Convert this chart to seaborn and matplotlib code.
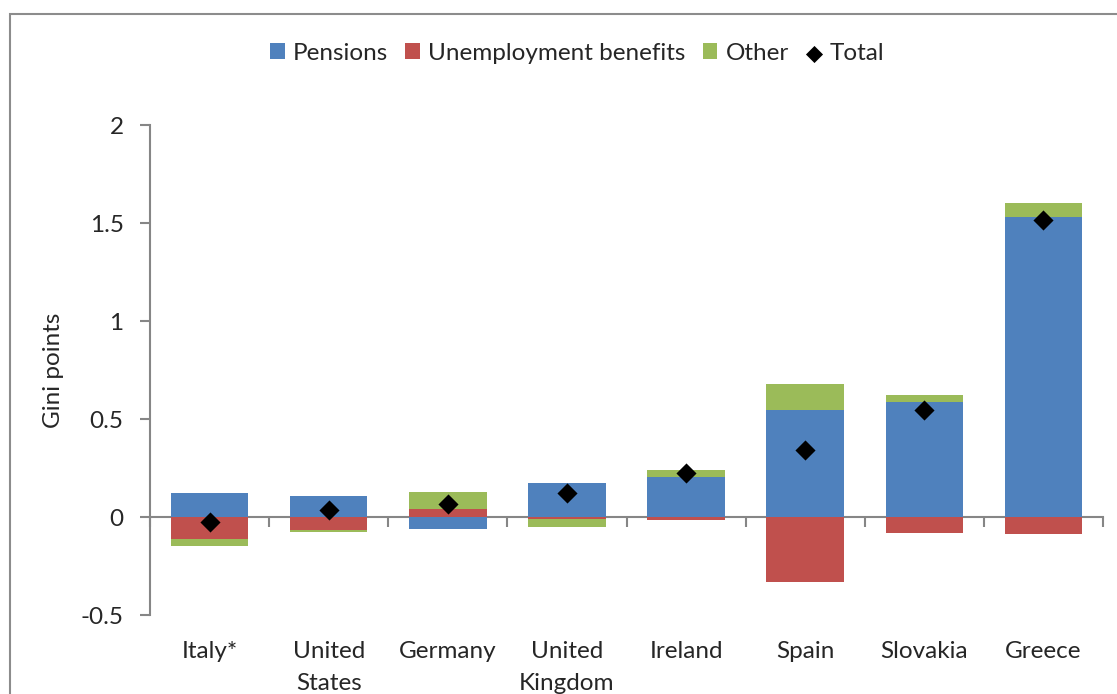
import matplotlib
matplotlib.use("Agg")
import matplotlib.pyplot as plt
import numpy as np
import pandas as pd
import seaborn as sns
from matplotlib.patches import Rectangle

countries = ["Italy*", "United\nStates", "Germany", "United\nKingdom", "Ireland", "Spain", "Slovakia", "Greece"]
pensions = [0.12, 0.107, -0.063, 0.172, 0.206, 0.547, 0.588, 1.53]
unemployment = [-0.11, -0.068, 0.043, -0.012, -0.015, -0.333, -0.08, -0.085]
other = [-0.04, -0.007, 0.085, -0.039, 0.034, 0.131, 0.034, 0.07]
total = [-0.027, 0.036, 0.066, 0.124, 0.225, 0.342, 0.544, 1.515]
yticks = [-0.5, 0, 0.5, 1, 1.5, 2]
ytick_labels = ["-0.5", "0", "0.5", "1", "1.5", "2"]

series = [("Pensions", pensions, "#4F81BD"),
          ("Unemployment benefits", unemployment, "#C0504D"),
          ("Other", other, "#9BBB59")]

sns.set_style("white")
plt.rcParams["font.family"] = ["Lato", "DejaVu Sans"]
GRAY = "#868686"
FS = 17.5

fig = plt.figure(figsize=(11.17, 6.94), dpi=100)
ax = fig.add_axes([150 / 1117, 1 - 615 / 694, (1103 - 150) / 1117, (615 - 125) / 694])

# stack positives upward and negatives downward
pos_base = np.zeros(len(countries))
neg_base = np.zeros(len(countries))
for name, vals, col in series:
    vals = np.array(vals)
    bottom = np.where(vals >= 0, pos_base, neg_base)
    df = pd.DataFrame({"country": countries, "value": vals})
    sns.barplot(data=df, x="country", y="value", order=countries, bottom=bottom,
                color=col, saturation=1, width=0.65, linewidth=0, label=name, ax=ax)
    pos_base = pos_base + np.where(vals >= 0, vals, 0)
    neg_base = neg_base + np.where(vals < 0, vals, 0)

sns.scatterplot(x=countries, y=total, marker="D", color="black", s=105,
                linewidth=0, label="Total", ax=ax, zorder=5)

ax.set_xlim(-0.5, len(countries) - 0.5)
ax.set_ylim(-0.5, 2)
ax.set_yticks(yticks)
ax.set_yticklabels(ytick_labels)
ax.set_xticks(range(len(countries)))
ax.set_xticklabels(countries, linespacing=1.65)
ax.set_xlabel("")
ax.set_ylabel("Gini points", fontsize=FS, labelpad=12)
ax.tick_params(axis="x", length=0, pad=19, labelsize=FS)
ax.tick_params(axis="y", length=7, width=1.5, color=GRAY, pad=12, labelsize=FS, left=True)
for s in ["top", "right", "bottom"]:
    ax.spines[s].set_visible(False)
ax.spines["left"].set_color(GRAY)
ax.spines["left"].set_linewidth(1.5)
if ax.get_legend():
    ax.get_legend().remove()

# zero line with category boundary ticks
sec = ax.secondary_xaxis(0.5 / 2.5)
sec.set_xticks(np.arange(len(countries) + 1) - 0.5)
sec.tick_params(axis="x", length=7, width=1.5, color=GRAY, labelbottom=False, bottom=True)
sec.spines["bottom"].set_color(GRAY)
sec.spines["bottom"].set_linewidth(1.5)

handles, labels = ax.get_legend_handles_labels()
order = [labels.index(n) for n in ["Pensions", "Unemployment benefits", "Other", "Total"]]
fig.legend([handles[i] for i in order], [labels[i] for i in order], loc="center",
           bbox_to_anchor=(577 / 1117, 1 - 53 / 694),
           ncol=4, frameon=False, fontsize=FS, handlelength=0.6, handleheight=0.6,
           handletextpad=0.35, columnspacing=0.7, markerscale=0.85)

fig.add_artist(Rectangle((10 / 1117, -0.1), 1.2, 1.1 - 14 / 694, transform=fig.transFigure,
                         fill=False, edgecolor="#8c8c8c", linewidth=1.5))

fig.savefig("out.png", dpi=100)
